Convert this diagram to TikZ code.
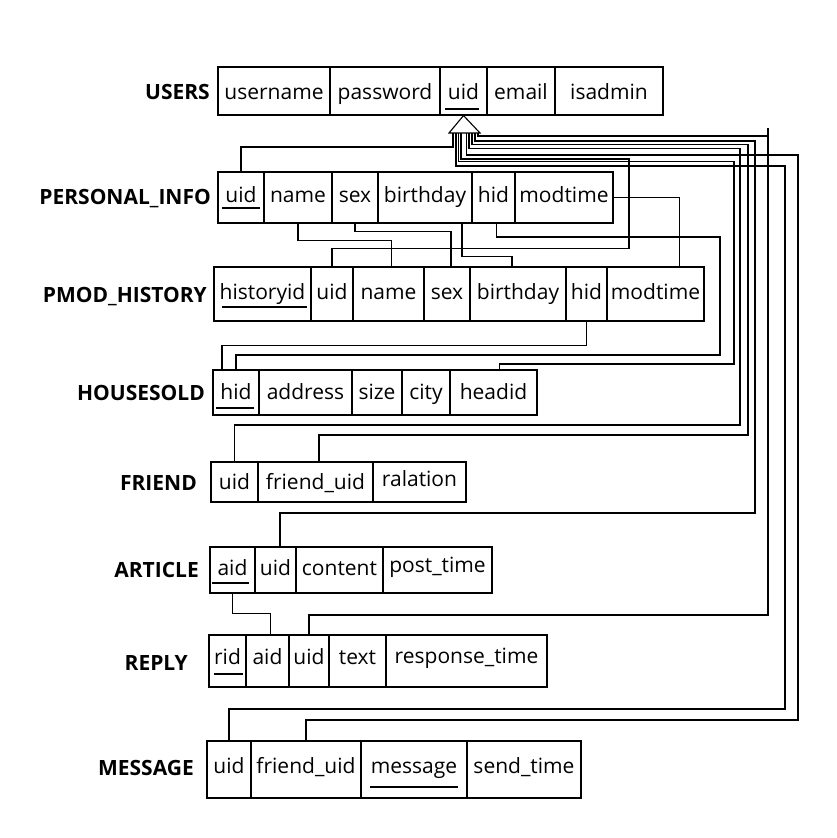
\documentclass[tikz,border=0pt]{standalone}
\usepackage{fontspec}
\setmainfont{Open Sans}
\tikzset{
  cellbox/.style={draw, line width=1.1pt, inner sep=0pt, text depth=0pt, font=\fontsize{21}{25}\selectfont},
  lbl/.style={inner sep=0pt, font=\fontsize{21}{25}\selectfont\bfseries},
  conn/.style={line width=1.1pt},
  ul/.style={line width=1.1pt}
}
% name, x1, x2, y1, y2, text, text height
\newcommand\rcell[7]{%
  \node[cellbox, minimum width={(#3-#2)*1pt}, minimum height={(#5-#4)*1pt}, text height=#7] (#1) at ({(#2+#3)/2},{(#4+#5)/2}) {#6};}
\begin{document}
\begin{tikzpicture}[x=1pt,y=-1pt]
\useasboundingbox[fill=white] (0,0) rectangle (837,838);

% ---------- labels ----------
\node[lbl, anchor=base east] (lu) at (210,99) {USERS};
\node[lbl, anchor=base east] (lp) at (211,204) {PERSONAL\_INFO};
\node[lbl, anchor=base east] (lh) at (207,302) {PMOD\_HISTORY};
\node[lbl, anchor=base east] (lo) at (205,400) {HOUSESOLD};
\node[lbl, anchor=base east] (lf) at (197,490) {FRIEND};
\node[lbl, anchor=base east] (la) at (199,577) {ARTICLE};
\node[lbl, anchor=base east] (lr) at (188,670) {REPLY};
\node[lbl, anchor=base east] (lm) at (194,775) {MESSAGE};

% ---------- USERS ----------
\rcell{u1}{218}{330}{67}{115}{username}{16pt}
\rcell{u2}{330}{440}{67}{115}{password}{16pt}
\rcell{u3}{440}{487}{67}{115}{uid}{16pt}
\rcell{u4}{487}{555}{67}{115}{email}{16pt}
\rcell{u5}{555}{663}{67}{115}{isadmin}{16pt}
\draw[ul] (445,109) -- (479,109);

% ---------- PERSONAL_INFO ----------
\rcell{p1}{218}{264}{172}{223}{uid}{10pt}
\rcell{p2}{264}{332}{172}{223}{name}{10pt}
\rcell{p3}{332}{378}{172}{223}{sex}{10pt}
\rcell{p4}{378}{472}{172}{223}{birthday}{10pt}
\rcell{p5}{472}{515}{172}{223}{hid}{10pt}
\rcell{p6}{515}{613}{172}{223}{modtime}{10pt}
\draw[ul] (222,208) -- (260,208);

% ---------- PMOD_HISTORY ----------
\rcell{h1}{214}{311}{267}{321}{historyid}{10pt}
\rcell{h2}{311}{353}{267}{321}{uid}{10pt}
\rcell{h3}{353}{424}{267}{321}{name}{10pt}
\rcell{h4}{424}{470}{267}{321}{sex}{10pt}
\rcell{h5}{470}{566}{267}{321}{birthday}{10pt}
\rcell{h6}{566}{607}{267}{321}{hid}{10pt}
\rcell{h7}{607}{704}{267}{321}{modtime}{10pt}
\draw[ul] (222,307) -- (307,307);

% ---------- HOUSESOLD ----------
\rcell{o1}{213}{259}{370}{415}{hid}{14pt}
\rcell{o2}{259}{352}{370}{415}{address}{14pt}
\rcell{o3}{352}{402}{370}{415}{size}{14pt}
\rcell{o4}{402}{450}{370}{415}{city}{14pt}
\rcell{o5}{450}{537}{370}{415}{headid}{14pt}
\draw[ul] (216,408) -- (254,408);

% ---------- FRIEND ----------
\rcell{f1}{211}{258}{462}{502}{uid}{14pt}
\rcell{f2}{258}{373}{462}{502}{friend\_uid}{14pt}
\rcell{f3}{373}{466}{462}{502}{ralation}{8pt}

% ---------- ARTICLE ----------
\rcell{a1}{210}{255}{547}{593}{aid}{10pt}
\rcell{a2}{255}{296}{547}{593}{uid}{10pt}
\rcell{a3}{296}{383}{547}{593}{content}{10pt}
\rcell{a4}{383}{492}{547}{593}{post\_time}{5pt}
\draw[ul] (212,583) -- (249,583);

% ---------- REPLY ----------
\rcell{r1}{209}{246}{635}{687}{rid}{6pt}
\rcell{r2}{246}{289}{635}{687}{aid}{6pt}
\rcell{r3}{289}{329}{635}{687}{uid}{6pt}
\rcell{r4}{329}{386}{635}{687}{text}{6pt}
\rcell{r5}{386}{547}{635}{687}{response\_time}{5pt}
\draw[ul] (214,674) -- (243,674);

% ---------- MESSAGE ----------
\rcell{m1}{207}{251}{741}{798}{uid}{7pt}
\rcell{m2}{251}{361}{741}{798}{friend\_uid}{7pt}
\rcell{m3}{361}{467}{741}{798}{message}{7pt}
\rcell{m4}{467}{581}{741}{798}{send\_time}{7pt}
\draw[ul] (370,787) -- (458,787);

% ---------- arrow hub under USERS.uid ----------
\draw[conn] (u3.south) -- (449,133) -- (480,133) -- cycle;
\coordinate (hA) at (478,133);
\coordinate (hB) at (475,133);
\coordinate (hC) at (472,133);
\coordinate (hD) at (469,133);
\coordinate (hE) at (466.5,133);
\coordinate (hF) at (461,133);
\coordinate (hG) at (458.5,133);
\coordinate (hH) at (456,133);
\coordinate (hI) at (453,133);

% ---------- foreign keys to USERS.uid ----------
\draw[conn] (p1.north) |- (453,147) -- (hI);
\draw[conn] (h2.north) -- ++(0,-18) -| (629,159) -| (hF);
\draw[conn] ([xshift=6pt]o5.north) |- (734,364) -- (734,161.5) -| (hG);
\draw[conn] (f1.north) |- (740,425) -- (740,148.5) -| (hD);
\draw[conn] ([xshift=3.5pt]f2.north) |- (748,435) -- (748,144.5) -| (hC);
\draw[conn] ([xshift=4.5pt]a2.north) |- (755,513) -- (755,141) -| (hB);
\draw[conn] (r3.north) |- (768,615) -- (768,128) (768,136) -| (hA);
\draw[conn] (m1.north) |- (785,709) -- (785,166) -| (hH);
\draw[conn] (m2.north) |- (798,720) -- (798,155) -| (hE);

% ---------- PERSONAL_INFO -> PMOD_HISTORY ----------
\draw[conn] (p2.south) -- ++(0,17) -| ([xshift=3pt]h3.north);
\draw[conn] (p3.south) -- ++(0,8) -| ([xshift=4pt]h4.north);
\draw[conn] ([xshift=37pt]p4.south) -- ++(0,33) -| ([xshift=-6pt]h5.north);
\draw[conn] (p6.east) -| ([xshift=24pt]h7.north);

% ---------- hid -> HOUSESOLD.hid ----------
\draw[conn] ([xshift=3pt]p5.south) |- (720,237) -- (720,355) -| (o1.north);
\draw[conn] (h6.south) -- ++(0,24) -| ([xshift=-14pt]o1.north);

% ---------- ARTICLE.aid -> REPLY.aid ----------
\draw[conn] (a1.south) -- ++(0,20) -| ([xshift=3pt]r2.north);
\end{tikzpicture}
\end{document}
